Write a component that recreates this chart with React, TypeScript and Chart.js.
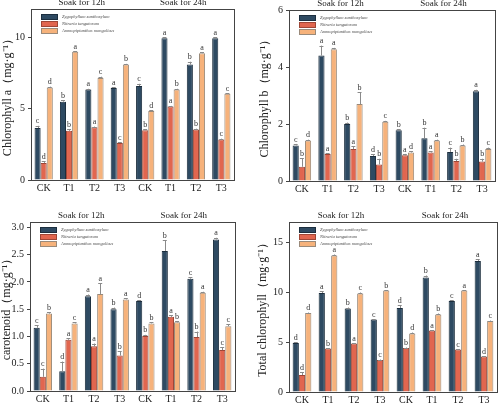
import React, { useEffect, useRef } from "react";
import { Chart, registerables } from "chart.js";
Chart.register(...registerables);

const categories = ["CK", "T1", "T2", "T3", "CK", "T1", "T2", "T3"];
const seriesNames = ["Zygophyllum xanthoxylum", "Nitraria tangutorum", "Ammopiptanthus mongolicus"];
const periodLabels = ["Soak for 12h", "Soak for 24h"];
const seriesColors = ["#2E4A62", "#E1664F", "#F6B27B"];
const seriesBorders = ["#1C2E3E", "#9E4636", "#9A8A7A"];

// Chlorophyll a
const chlaZx = [3.65, 5.5, 6.35, 6.45, 6.6, 9.95, 8.1, 9.95];
const chlaNt = [1.2, 3.45, 3.7, 2.6, 3.5, 5.15, 3.55, 2.85];
const chlaAm = [6.5, 9.0, 7.15, 8.1, 4.85, 6.35, 8.9, 6.05];
const chlaZxErr = [0.15, 0.1, 0.05, 0.05, 0.15, 0.05, 0.2, 0.05];
const chlaNtErr = [0.1, 0.1, 0.05, 0.05, 0.05, 0.05, 0.05, 0.05];
const chlaAmErr = [0.05, 0.05, 0.1, 0.05, 0.05, 0.05, 0.05, 0.05];
const chlaZxSig = ["c", "b", "a", "a", "c", "a", "b", "a"];
const chlaNtSig = ["d", "b", "a", "c", "b", "a", "b", "c"];
const chlaAmSig = ["d", "a", "c", "b", "d", "b", "a", "c"];

// Chlorophyll b
const chlbZx = [1.25, 4.4, 2.0, 0.88, 1.78, 1.5, 1.02, 3.15];
const chlbNt = [0.5, 0.95, 1.12, 0.58, 0.9, 1.0, 0.7, 0.68];
const chlbAm = [1.42, 4.62, 2.7, 2.08, 1.0, 1.42, 1.25, 1.12];
const chlbZxErr = [0.05, 0.35, 0.05, 0.05, 0.03, 0.37, 0.15, 0.05];
const chlbNtErr = [0.3, 0.03, 0.1, 0.2, 0.05, 0.05, 0.08, 0.1];
const chlbAmErr = [0.03, 0.05, 0.42, 0.03, 0.05, 0.03, 0.03, 0.05];
const chlbZxSig = ["c", "a", "b", "d", "b", "b", "c", "a"];
const chlbNtSig = ["b", "a", "a", "b", "a", "a", "b", "b"];
const chlbAmSig = ["d", "a", "b", "c", "d", "a", "b", "c"];

// Carotenoid
const carZx = [1.16, 0.36, 1.74, 1.5, 1.65, 2.57, 2.06, 2.78];
const carNt = [0.26, 0.94, 0.82, 0.65, 1.01, 1.36, 0.99, 0.75];
const carAm = [1.42, 1.24, 1.78, 1.68, 1.24, 1.26, 1.8, 1.19];
const carZxErr = [0.05, 0.18, 0.03, 0.03, 0.02, 0.2, 0.03, 0.03];
const carNtErr = [0.15, 0.03, 0.05, 0.08, 0.02, 0.03, 0.1, 0.05];
const carAmErr = [0.02, 0.02, 0.2, 0.02, 0.02, 0.02, 0.02, 0.03];
const carZxSig = ["c", "d", "a", "b", "d", "b", "c", "a"];
const carNtSig = ["c", "a", "a", "b", "b", "a", "b", "c"];
const carAmSig = ["b", "c", "a", "a", "b", "b", "a", "c"];

// Total chlorophyll
const totZx = [4.9, 9.9, 8.35, 7.25, 8.4, 11.45, 9.1, 13.1];
const totNt = [1.7, 4.35, 4.85, 3.2, 4.4, 6.15, 4.25, 3.55];
const totAm = [7.9, 13.65, 9.85, 10.15, 5.85, 7.75, 10.15, 7.1];
const totZxErr = [0.1, 0.2, 0.1, 0.05, 0.3, 0.2, 0.1, 0.2];
const totNtErr = [0.3, 0.05, 0.05, 0.05, 0.05, 0.05, 0.05, 0.05];
const totAmErr = [0.05, 0.1, 0.1, 0.05, 0.1, 0.1, 0.05, 0.05];
const totZxSig = ["d", "a", "b", "c", "d", "b", "c", "a"];
const totNtSig = ["d", "b", "a", "c", "b", "a", "c", "d"];
const totAmSig = ["d", "a", "c", "b", "d", "b", "a", "c"];

const SERIF = "'Liberation Serif', 'Times New Roman', serif";

type PanelDef = {
  left: number;
  top: number;
  width: number;
  height: number;
  yTitle: string;
  max: number;
  step: number;
  decimals: number;
  values: number[][];
  errors: number[][];
  sig: string[][];
  yWidth: number;
  xHeight: number;
  padTop: number;
  padRight: number;
  padLeft: number;
};

const panels: PanelDef[] = [
  {
    left: 0, top: 0, width: 250, height: 200,
    yTitle: "Chlorophyll a（mg·g⁻¹）", max: 12, step: 5, decimals: 0,
    values: [chlaZx, chlaNt, chlaAm], errors: [chlaZxErr, chlaNtErr, chlaAmErr], sig: [chlaZxSig, chlaNtSig, chlaAmSig],
    yWidth: 30, xHeight: 20, padTop: 8, padRight: 16, padLeft: 1,
  },
  {
    left: 250, top: 0, width: 250, height: 200,
    yTitle: "Chlorophyll b（mg·g⁻¹）", max: 6, step: 2, decimals: 0,
    values: [chlbZx, chlbNt, chlbAm], errors: [chlbZxErr, chlbNtErr, chlbAmErr], sig: [chlbZxSig, chlbNtSig, chlbAmSig],
    yWidth: 31, xHeight: 19, padTop: 10, padRight: 5, padLeft: 8,
  },
  {
    left: 0, top: 200, width: 250, height: 203,
    yTitle: "carotenoid（mg·g⁻¹）", max: 3.1, step: 0.5, decimals: 1,
    values: [carZx, carNt, carAm], errors: [carZxErr, carNtErr, carAmErr], sig: [carZxSig, carNtSig, carAmSig],
    yWidth: 30, xHeight: 12, padTop: 22, padRight: 15, padLeft: 0,
  },
  {
    left: 250, top: 200, width: 250, height: 203,
    yTitle: "Total chlorophyll（mg·g⁻¹）", max: 17, step: 5, decimals: 0,
    values: [totZx, totNt, totAm], errors: [totZxErr, totNtErr, totAmErr], sig: [totZxSig, totNtSig, totAmSig],
    yWidth: 33, xHeight: 11, padTop: 22, padRight: 3, padLeft: 6,
  },
];

const decorPlugin = {
  id: "decor",
  afterDatasetsDraw(chart: any, _args: any, opts: any) {
    const ctx = chart.ctx as CanvasRenderingContext2D;
    const y = chart.scales.y;
    const errors: number[][] = opts.errors;
    const sig: string[][] = opts.sig;
    ctx.save();
    chart.data.datasets.forEach((ds: any, di: number) => {
      const meta = chart.getDatasetMeta(di);
      meta.data.forEach((el: any, i: number) => {
        const v = ds.data[i];
        const top = y.getPixelForValue(v + errors[di][i]);
        ctx.strokeStyle = "#8a8a8a";
        ctx.lineWidth = 1;
        ctx.beginPath();
        ctx.moveTo(Math.round(el.x) + 0.5, el.y);
        ctx.lineTo(Math.round(el.x) + 0.5, top);
        ctx.moveTo(el.x - 2, Math.round(top) + 0.5);
        ctx.lineTo(el.x + 2, Math.round(top) + 0.5);
        ctx.stroke();
        ctx.fillStyle = "#333";
        ctx.font = `8px ${SERIF}`;
        ctx.textAlign = "center";
        ctx.textBaseline = "bottom";
        ctx.fillText(sig[di][i], el.x, top - 0.5);
      });
    });
    ctx.restore();
  },
  afterDraw(chart: any) {
    const ctx = chart.ctx as CanvasRenderingContext2D;
    const a = chart.chartArea;
    const x = chart.scales.x;
    ctx.save();
    // frame
    ctx.strokeStyle = "#444";
    ctx.lineWidth = 1;
    ctx.strokeRect(Math.round(a.left) + 0.5, Math.round(a.top) + 0.5, Math.round(a.right - a.left), Math.round(a.bottom - a.top));
    // period labels
    ctx.fillStyle = "#222";
    ctx.font = `9px ${SERIF}`;
    ctx.textAlign = "center";
    ctx.textBaseline = "bottom";
    periodLabels.forEach((lab, k) => {
      const cx = (x.getPixelForValue(k * 4) + x.getPixelForValue(k * 4 + 3)) / 2;
      ctx.fillText(lab, cx, a.top - 2);
    });
    // legend
    const lx = a.left + 10;
    let ly = a.top + 5;
    chart.data.datasets.forEach((ds: any) => {
      ctx.fillStyle = ds.backgroundColor;
      ctx.fillRect(lx, ly, 17, 6);
      ctx.strokeStyle = ds.borderColor;
      ctx.strokeRect(lx + 0.5, ly + 0.5, 16, 5);
      ctx.fillStyle = "#444";
      ctx.font = `italic 4.5px ${SERIF}`;
      ctx.textAlign = "left";
      ctx.textBaseline = "middle";
      ctx.fillText(ds.label, lx + 21, ly + 3);
      ly += 7;
    });
    ctx.restore();
  },
};

function Panel({ def }: { def: PanelDef }) {
  const ref = useRef<HTMLCanvasElement>(null);
  useEffect(() => {
    if (!ref.current) return;
    const chart = new Chart(ref.current, {
      type: "bar",
      data: {
        labels: categories,
        datasets: def.values.map((vals, i) => ({
          label: seriesNames[i],
          data: vals,
          backgroundColor: seriesColors[i],
          borderColor: seriesBorders[i],
          borderWidth: 1,
          categoryPercentage: 0.72,
          barPercentage: 1,
        })),
      },
      options: {
        responsive: false,
        animation: false,
        devicePixelRatio: 1,
        layout: { padding: { top: def.padTop, right: def.padRight, left: def.padLeft, bottom: 0 } },
        plugins: {
          legend: { display: false },
          tooltip: { enabled: false },
          decor: { errors: def.errors, sig: def.sig },
        } as any,
        scales: {
          x: {
            grid: { display: false, drawTicks: false },
            border: { display: false },
            ticks: { color: "#222", font: { family: SERIF, size: 10 }, padding: 2 },
            afterFit: (s: any) => { s.height = def.xHeight; },
          },
          y: {
            min: 0,
            max: def.max,
            grid: { display: true, drawOnChartArea: false, drawTicks: true, tickLength: 3, color: "#444" },
            border: { display: false },
            ticks: {
              stepSize: def.step,
              includeBounds: false,
              color: "#222",
              padding: 3,
              font: { family: SERIF, size: 10 },
              callback: (v: any) => Number(v).toFixed(def.decimals),
            },
            title: {
              display: true,
              text: def.yTitle,
              color: "#222",
              font: { family: SERIF, size: 12 },
              padding: { top: 0, bottom: 0 },
            },
            afterFit: (s: any) => { s.width = def.yWidth; },
          },
        },
      },
      plugins: [decorPlugin],
    });
    return () => chart.destroy();
  }, [def]);
  return (
    <div style={{ position: "absolute", left: def.left, top: def.top, width: def.width, height: def.height }}>
      <canvas ref={ref} width={def.width} height={def.height} style={{ display: "block" }} />
    </div>
  );
}

export default function App() {
  return (
    <div style={{ position: "fixed", left: 0, top: 0, width: 500, height: 403, background: "#fff", overflow: "hidden" }}>
      {panels.map((p, i) => (
        <Panel key={i} def={p} />
      ))}
    </div>
  );
}
